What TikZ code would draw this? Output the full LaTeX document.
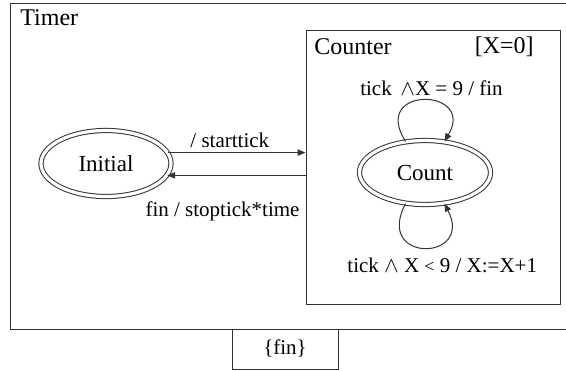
\documentclass[tikz,border=0pt]{standalone}
\usepackage{fontspec}
\setmainfont{Liberation Serif}
\usetikzlibrary{arrows.meta,shapes.geometric}
\tikzset{
    line/.style={line width=0.5pt,draw=black!80},
    arr/.style={line,-{Triangle[length=4pt,width=3.2pt]}},
    state/.style={ellipse,line,double,double distance=1.6pt,inner sep=0pt,font=\fontsize{11.5}{13}\selectfont},
    box/.style={rectangle,line,inner sep=0pt},
    lbl/.style={font=\fontsize{10.5}{12}\selectfont,inner sep=1pt},
    ttl/.style={font=\fontsize{12}{14}\selectfont,inner sep=0pt}
}
\begin{document}
\begin{tikzpicture}[x=0.5pt,y=-0.5pt]
    \useasboundingbox[fill=white] (0,0) rectangle (566,370);

    % Outer state Timer
    \draw[line] (10,3) rectangle (580,329);
    \node[ttl,anchor=west] (timer) at (20,18) {Timer};

    % Inner state Counter
    \node[box,minimum width=127pt,minimum height=137pt] (counter) at (433,167) {};
    \node[ttl,anchor=west] (countername) at (314,47) {Counter};
    \node[ttl,anchor=east] (counterinit) at (534,47) {[X=0]};

    % States
    \node[state,minimum width=65pt,minimum height=33pt] (init) at (106,163.5) {Initial};
    \node[state,minimum width=65.5pt,minimum height=32pt] (count) at (425,172.5) {Count};

    % Transitions between Initial and Counter
    \draw[arr] (init.10) -- node[lbl,above,pos=0.45,yshift=1pt] {/ starttick} (init.10 -| counter.west);
    \draw[arr] (init.-11 -| counter.west) -- node[lbl,below,pos=0.6,yshift=-12pt] {fin / stoptick*time} (init.-11);

    % Self loops of Count
    \draw[arr] (count.122) .. controls +(-36,-56) and +(32,-54) .. node[lbl,above,pos=0.5,xshift=4pt,yshift=1pt] {tick \,$\wedge$X = 9 / fin} (count.58);
    \draw[arr] (count.-122) .. controls +(-32,60) and +(30,58) .. node[lbl,below,pos=0.5,xshift=9pt,yshift=-4pt] {tick $\wedge$ X {\fontsize{9}{10}\selectfont<} 9 / X:=X+1} (count.-58);

    % Event box
    \node[box,minimum width=53pt,minimum height=20pt,font=\fontsize{10.5}{12}\selectfont] (event) at (285,349) {\{fin\}};
\end{tikzpicture}
\end{document}
